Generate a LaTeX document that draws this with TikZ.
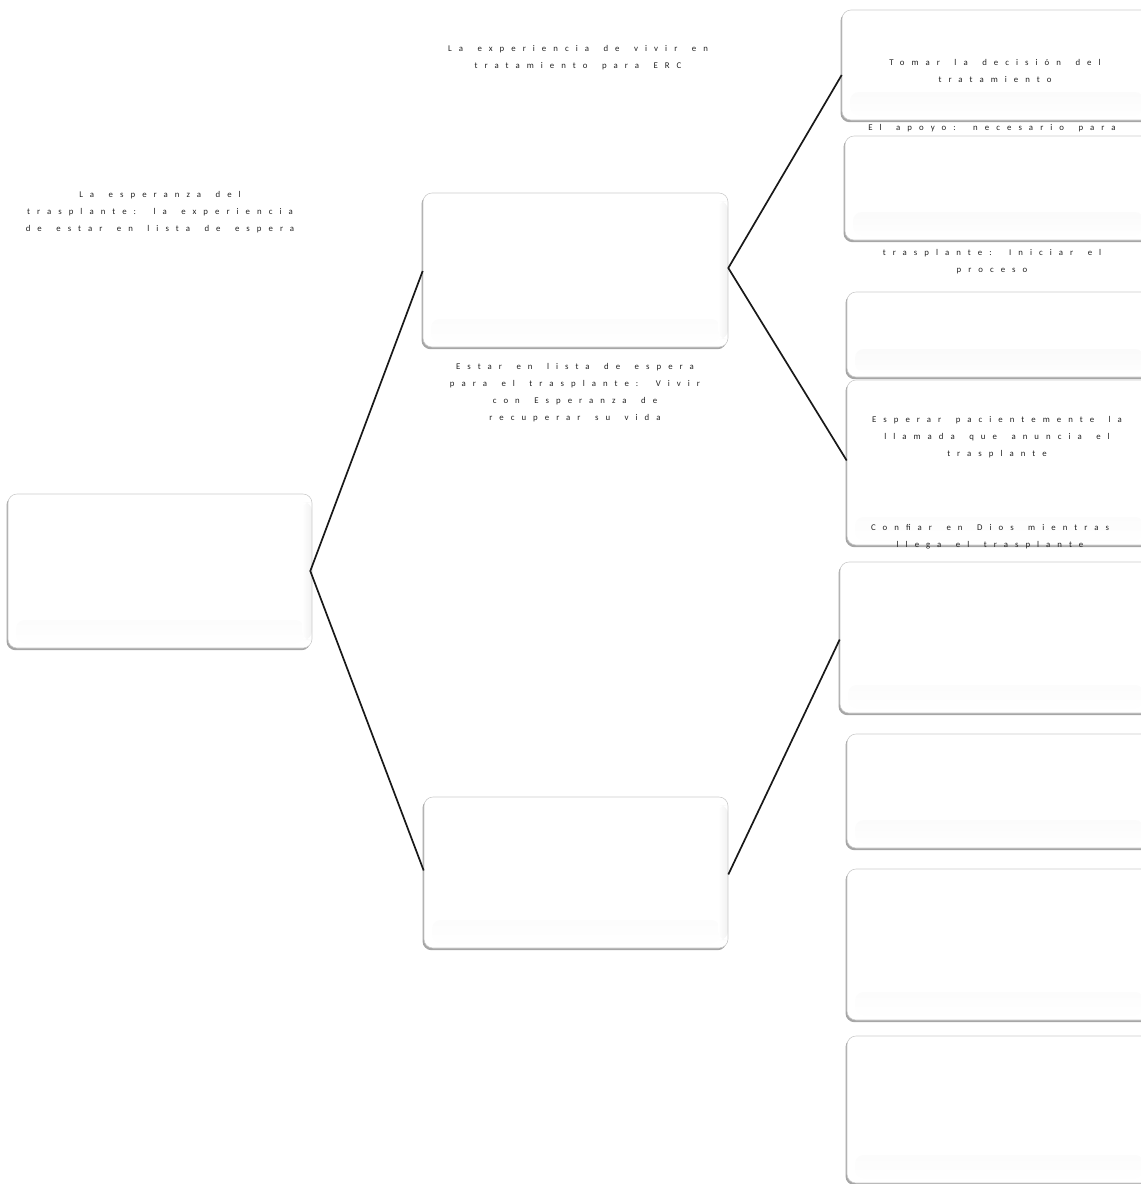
\documentclass[tikz,border=0pt]{standalone}
\usepackage{fontspec}
\newfontfamily\lbfont[LetterSpace=80]{Carlito}
\newcommand\lbsetup{\lbfont\fontsize{8.8}{17}\selectfont\spaceskip=14.5pt plus 2pt\relax}
\usetikzlibrary{shadows}
\definecolor{darktext}{HTML}{222222}
\tikzset{
  bevelbox/.style={rectangle, rounded corners=9pt, inner sep=0pt, fill=white,
    draw=gray!40, line width=0.6pt,
    drop shadow={shadow xshift=-1.5pt, shadow yshift=-2.2pt, fill=gray!70, opacity=1},
    path picture={\shade[top color=gray!13, bottom color=white]
      ([xshift=8pt,yshift=28pt]path picture bounding box.south west) rectangle
      ([xshift=-8pt,yshift=5pt]path picture bounding box.south east);
      \shade[left color=white, right color=gray!11]
      ([xshift=-10pt,yshift=8pt]path picture bounding box.south east) rectangle
      ([yshift=-8pt]path picture bounding box.north east);}},
  lbl/.style={font=\lbsetup, text=darktext, align=center, inner sep=0pt},
  conn/.style={draw=black!90, line width=1.7pt}
}
\begin{document}
\begin{tikzpicture}[x=1pt,y=-1pt]
\useasboundingbox (0,0) rectangle (1141,1184);
\clip (0,0) rectangle (1141,1184);
% boxes
\node[bevelbox, minimum width=304pt, minimum height=154pt] (L)  at (160,571) {};
\node[bevelbox, minimum width=305pt, minimum height=154pt] (MT) at (575.5,270) {};
\node[bevelbox, minimum width=304pt, minimum height=151pt] (MB) at (576,872.5) {};
\node[bevelbox, minimum width=310pt, minimum height=110pt] (R1) at (997,65) {};
\node[bevelbox, minimum width=307pt, minimum height=104pt] (R2) at (998.5,188) {};
\node[bevelbox, minimum width=305pt, minimum height=85pt]  (R3) at (999.5,334.5) {};
\node[bevelbox, minimum width=305pt, minimum height=165pt] (R4) at (999.5,462.5) {};
\node[bevelbox, minimum width=312pt, minimum height=151pt] (R5) at (996,637.5) {};
\node[bevelbox, minimum width=305pt, minimum height=114pt] (R6) at (999.5,791) {};
\node[bevelbox, minimum width=305pt, minimum height=151pt] (R7) at (999.5,944.5) {};
\node[bevelbox, minimum width=305pt, minimum height=147pt] (R8) at (999.5,1109.5) {};
% connectors
\draw[conn] ([yshift=-1pt]MT.west) -- ([xshift=-2pt]L.east) -- ([yshift=2pt]MB.west);
\draw[conn] ([yshift=-10pt]R1.west) -- ([yshift=2pt]MT.east) -- ([yshift=2pt]R4.west);
\draw[conn] ([yshift=-2pt]R5.west) -- ([yshift=-2pt]MB.east);
% labels
\node[lbl] (t0) at (578,58) {La experiencia de vivir en\\tratamiento para ERC};
\node[lbl] (t1) at (160,212) {La esperanza del\\trasplante: la experiencia\\de estar en lista de espera};
\node[lbl] (t2) at (575,393) {Estar en lista de espera\\para el trasplante: Vivir\\con Esperanza de\\recuperar su vida};
\node[lbl] (t3) at (995,71) {Tomar la decisión del\\tratamiento};
\node[lbl] (t4) at (992,128) {El apoyo: necesario para};
\node[lbl] (t5) at (992,262) {trasplante: Iniciar el\\proceso};
\node[lbl] (t6) at (997,437) {Esperar pacientemente la\\llamada que anuncia el\\trasplante};
\node[lbl] (t7) at (990,537) {Confiar en Dios mientras\\llega el trasplante};
\end{tikzpicture}
\end{document}
